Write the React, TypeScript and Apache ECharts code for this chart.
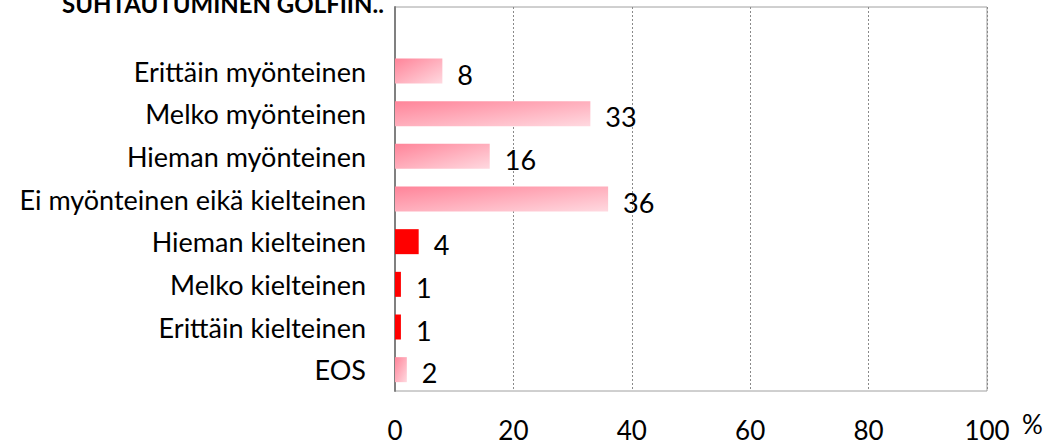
import React, { useEffect, useRef } from "react";
import * as echarts from "echarts";

const categories = [
  "",
  "Erittäin myönteinen",
  "Melko myönteinen",
  "Hieman myönteinen",
  "Ei myönteinen eikä kielteinen",
  "Hieman kielteinen",
  "Melko kielteinen",
  "Erittäin kielteinen",
  "EOS",
];
const values: (number | null)[] = [null, 8, 33, 16, 36, 4, 1, 1, 2];
const negative = [false, false, false, false, false, true, true, true, false];
const xTicks = [0, 20, 40, 60, 80, 100];
const title = "SUHTAUTUMINEN GOLFIIN..";
const unit = "%";

const FONT = "Lato";

export default function App() {
  const ref = useRef<HTMLDivElement>(null);
  useEffect(() => {
    document.body.style.margin = "0";
    if (!ref.current) return;
    const chart = echarts.init(ref.current, undefined, { renderer: "svg" });
    const pink = new echarts.graphic.LinearGradient(0, 0, 1, 1, [
      { offset: 0, color: "#ff8499" },
      { offset: 1, color: "#ffd9e0" },
    ]);
    chart.setOption({
      animation: false,
      grid: {
        left: 395,
        right: 73,
        top: 7,
        bottom: 54,
        show: true,
        borderColor: "#a0a0a0",
        borderWidth: 1,
      },
      xAxis: {
        type: "value",
        min: xTicks[0],
        max: xTicks[xTicks.length - 1],
        interval: 20,
        axisLine: { show: false },
        axisTick: { show: false },
        axisLabel: {
          margin: 29,
          fontFamily: FONT,
          fontSize: 26,
          lineHeight: 20,
          color: "#000",
        },
        splitLine: {
          show: true,
          lineStyle: { color: "#8a8a8a", type: [2, 2], width: 1 },
        },
      },
      yAxis: {
        type: "category",
        inverse: true,
        data: categories,
        axisLine: { show: true, lineStyle: { color: "#808080", width: 2 } },
        axisTick: { show: false },
        axisLabel: {
          margin: 29,
          fontFamily: FONT,
          fontSize: 27,
          color: "#000",
        },
        splitLine: { show: false },
      },
      series: [
        {
          type: "bar",
          barWidth: 25,
          data: values.map((v, i) => ({
            value: v,
            itemStyle: { color: negative[i] ? "#ff0000" : pink },
          })),
          label: {
            show: true,
            position: "right",
            distance: 15,
            offset: [0, 3],
            fontFamily: FONT,
            fontSize: 27,
            color: "#000",
          },
        },
      ],
      graphic: [
        {
          type: "text",
          left: 62,
          top: -9,
          style: {
            text: title,
            fontFamily: FONT,
            fontWeight: "bold",
            fontSize: 24,
            fill: "#000",
          },
        },
        {
          type: "text",
          left: 1022,
          top: 411,
          style: {
            text: unit,
            fontFamily: FONT,
            fontSize: 26,
            lineHeight: 26,
            fill: "#000",
          },
        },
      ],
    });
    return () => chart.dispose();
  }, []);
  return <div ref={ref} style={{ width: 1060, height: 445 }} />;
}
